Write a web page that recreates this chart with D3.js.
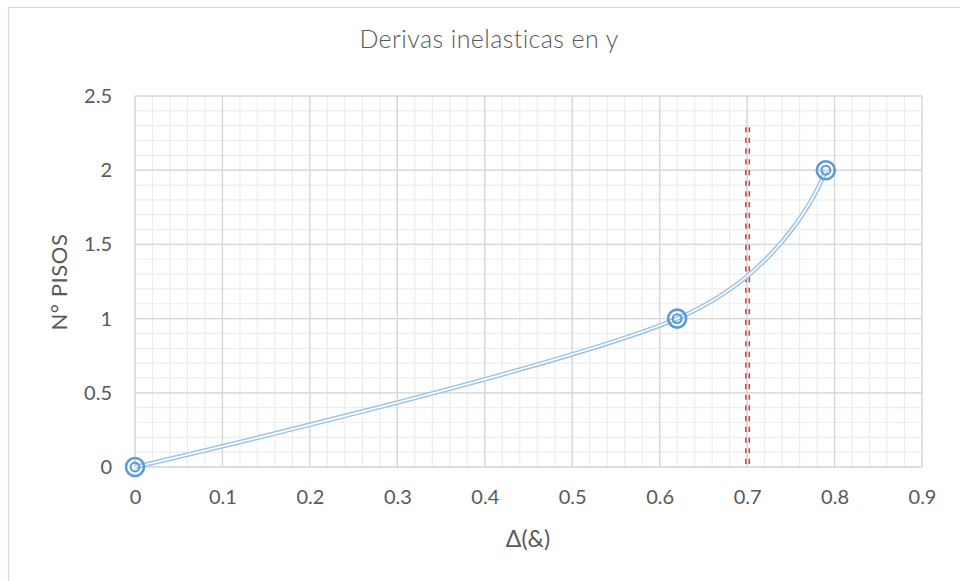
<!DOCTYPE html>
<html>
<head>
<meta charset="utf-8">
<script src="https://cdn.jsdelivr.net/npm/d3@7"></script>
<style>
  html, body { margin: 0; padding: 0; background: #fff; }
  svg { display: block; }
</style>
</head>
<body>
<svg id="chart" width="960" height="581"></svg>
<script>
const title = "Derivas inelasticas en y";
const xTitle = "Δ(&)";
const yTitle = "N° PISOS";
const xValues = [0, 0.62, 0.79];
const yValues = [0, 1, 2];
const limitX = [0.7, 0.7];
const limitY = [0, 2.29];
const xTicks = [0, 0.1, 0.2, 0.3, 0.4, 0.5, 0.6, 0.7, 0.8, 0.9];
const yTicks = [0, 0.5, 1, 1.5, 2, 2.5];

const svg = d3.select("#chart");
const font = "Lato, 'Open Sans', sans-serif";
const textColor = "#595959";

const margin = { left: 135, right: 38, top: 96, bottom: 114 };
const W = 960, H = 581;
const x = d3.scaleLinear().domain([0, 0.9]).range([margin.left, W - margin.right]);
const y = d3.scaleLinear().domain([0, 2.5]).range([H - margin.bottom, margin.top]);

// outer chart border
svg.append("rect").attr("x", 8.5).attr("y", 7.5).attr("width", 1000).attr("height", 1000)
  .attr("fill", "#fff").attr("stroke", "#d9d9d9").attr("stroke-width", 1.2);

// minor grid
const xMinor = d3.range(0, 0.9001, 0.02);
const yMinor = d3.range(0, 2.5001, 0.1);
const g = svg.append("g");
g.selectAll(".xm").data(xMinor).enter().append("line")
  .attr("x1", d => x(d)).attr("x2", d => x(d))
  .attr("y1", y(0)).attr("y2", y(2.5)).attr("stroke", "#ededed").attr("stroke-width", 1.2);
g.selectAll(".ym").data(yMinor).enter().append("line")
  .attr("y1", d => y(d)).attr("y2", d => y(d))
  .attr("x1", x(0)).attr("x2", x(0.9)).attr("stroke", "#ededed").attr("stroke-width", 1.2);
// major grid
g.selectAll(".xM").data(xTicks).enter().append("line")
  .attr("x1", d => x(d)).attr("x2", d => x(d))
  .attr("y1", y(0)).attr("y2", y(2.5)).attr("stroke", "#d6d6d6").attr("stroke-width", 1.3);
g.selectAll(".yM").data(yTicks).enter().append("line")
  .attr("y1", d => y(d)).attr("y2", d => y(d))
  .attr("x1", x(0)).attr("x2", x(0.9)).attr("stroke", "#d6d6d6").attr("stroke-width", 1.3);

// axes (labels only)
const fmt = d => String(+d.toFixed(1));
const xAxis = d3.axisBottom(x).tickValues(xTicks).tickSize(0).tickPadding(23).tickFormat(fmt);
const gx = svg.append("g").attr("transform", `translate(0,${y(0)})`).call(xAxis);
gx.select(".domain").remove();
gx.selectAll("text").attr("font-family", font).attr("font-size", 20).attr("fill", textColor);

const yAxis = d3.axisLeft(y).tickValues(yTicks).tickSize(0).tickPadding(23).tickFormat(fmt);
const gy = svg.append("g").attr("transform", `translate(${x(0)},0)`).call(yAxis);
gy.select(".domain").remove();
gy.selectAll("text").attr("font-family", font).attr("font-size", 20).attr("fill", textColor);

// limit line (double dashed red)
[-1.7, 1.7].forEach(off => {
  svg.append("line")
    .attr("x1", x(limitX[0]) + off + 0.5).attr("x2", x(limitX[1]) + off + 0.5)
    .attr("y1", y(limitY[1])).attr("y2", y(limitY[0]))
    .attr("stroke", "#cf3b3b").attr("stroke-width", 1.5)
    .attr("stroke-dasharray", "5.2,5.5");
});

// series line (compound / double line)
const pts = xValues.map((d, i) => [x(d), y(yValues[i])]);
const line = d3.line().curve(d3.curveCardinal.tension(0));
svg.append("path").attr("d", line(pts)).attr("fill", "none")
  .attr("stroke", "#9dc3e6").attr("stroke-width", 4.6);
svg.append("path").attr("d", line(pts)).attr("fill", "none")
  .attr("stroke", "#ffffff").attr("stroke-width", 1.6);

// markers (double ring)
const mk = svg.append("g");
mk.selectAll(".o").data(pts).enter().append("circle")
  .attr("cx", d => d[0]).attr("cy", d => d[1]).attr("r", 9)
  .attr("fill", "none").attr("stroke", "#5b9bd5").attr("stroke-width", 2.6);
mk.selectAll(".i").data(pts).enter().append("circle")
  .attr("cx", d => d[0]).attr("cy", d => d[1]).attr("r", 4.4)
  .attr("fill", "none").attr("stroke", "#5b9bd5").attr("stroke-width", 2.1);

// titles
svg.append("text").attr("x", 489).attr("y", 48).attr("text-anchor", "middle")
  .attr("font-family", font).attr("font-size", 25).attr("letter-spacing", 0.4)
  .attr("font-weight", 300).attr("fill", textColor).text(title);
svg.append("text").attr("x", 528).attr("y", 547).attr("text-anchor", "middle")
  .attr("font-family", font).attr("font-size", 23).attr("fill", textColor).text(xTitle);
svg.append("text").attr("transform", "translate(67,282) rotate(-90)").attr("text-anchor", "middle")
  .attr("font-family", font).attr("font-size", 22).attr("letter-spacing", 0.6)
  .attr("fill", textColor).text(yTitle);
</script>
</body>
</html>
